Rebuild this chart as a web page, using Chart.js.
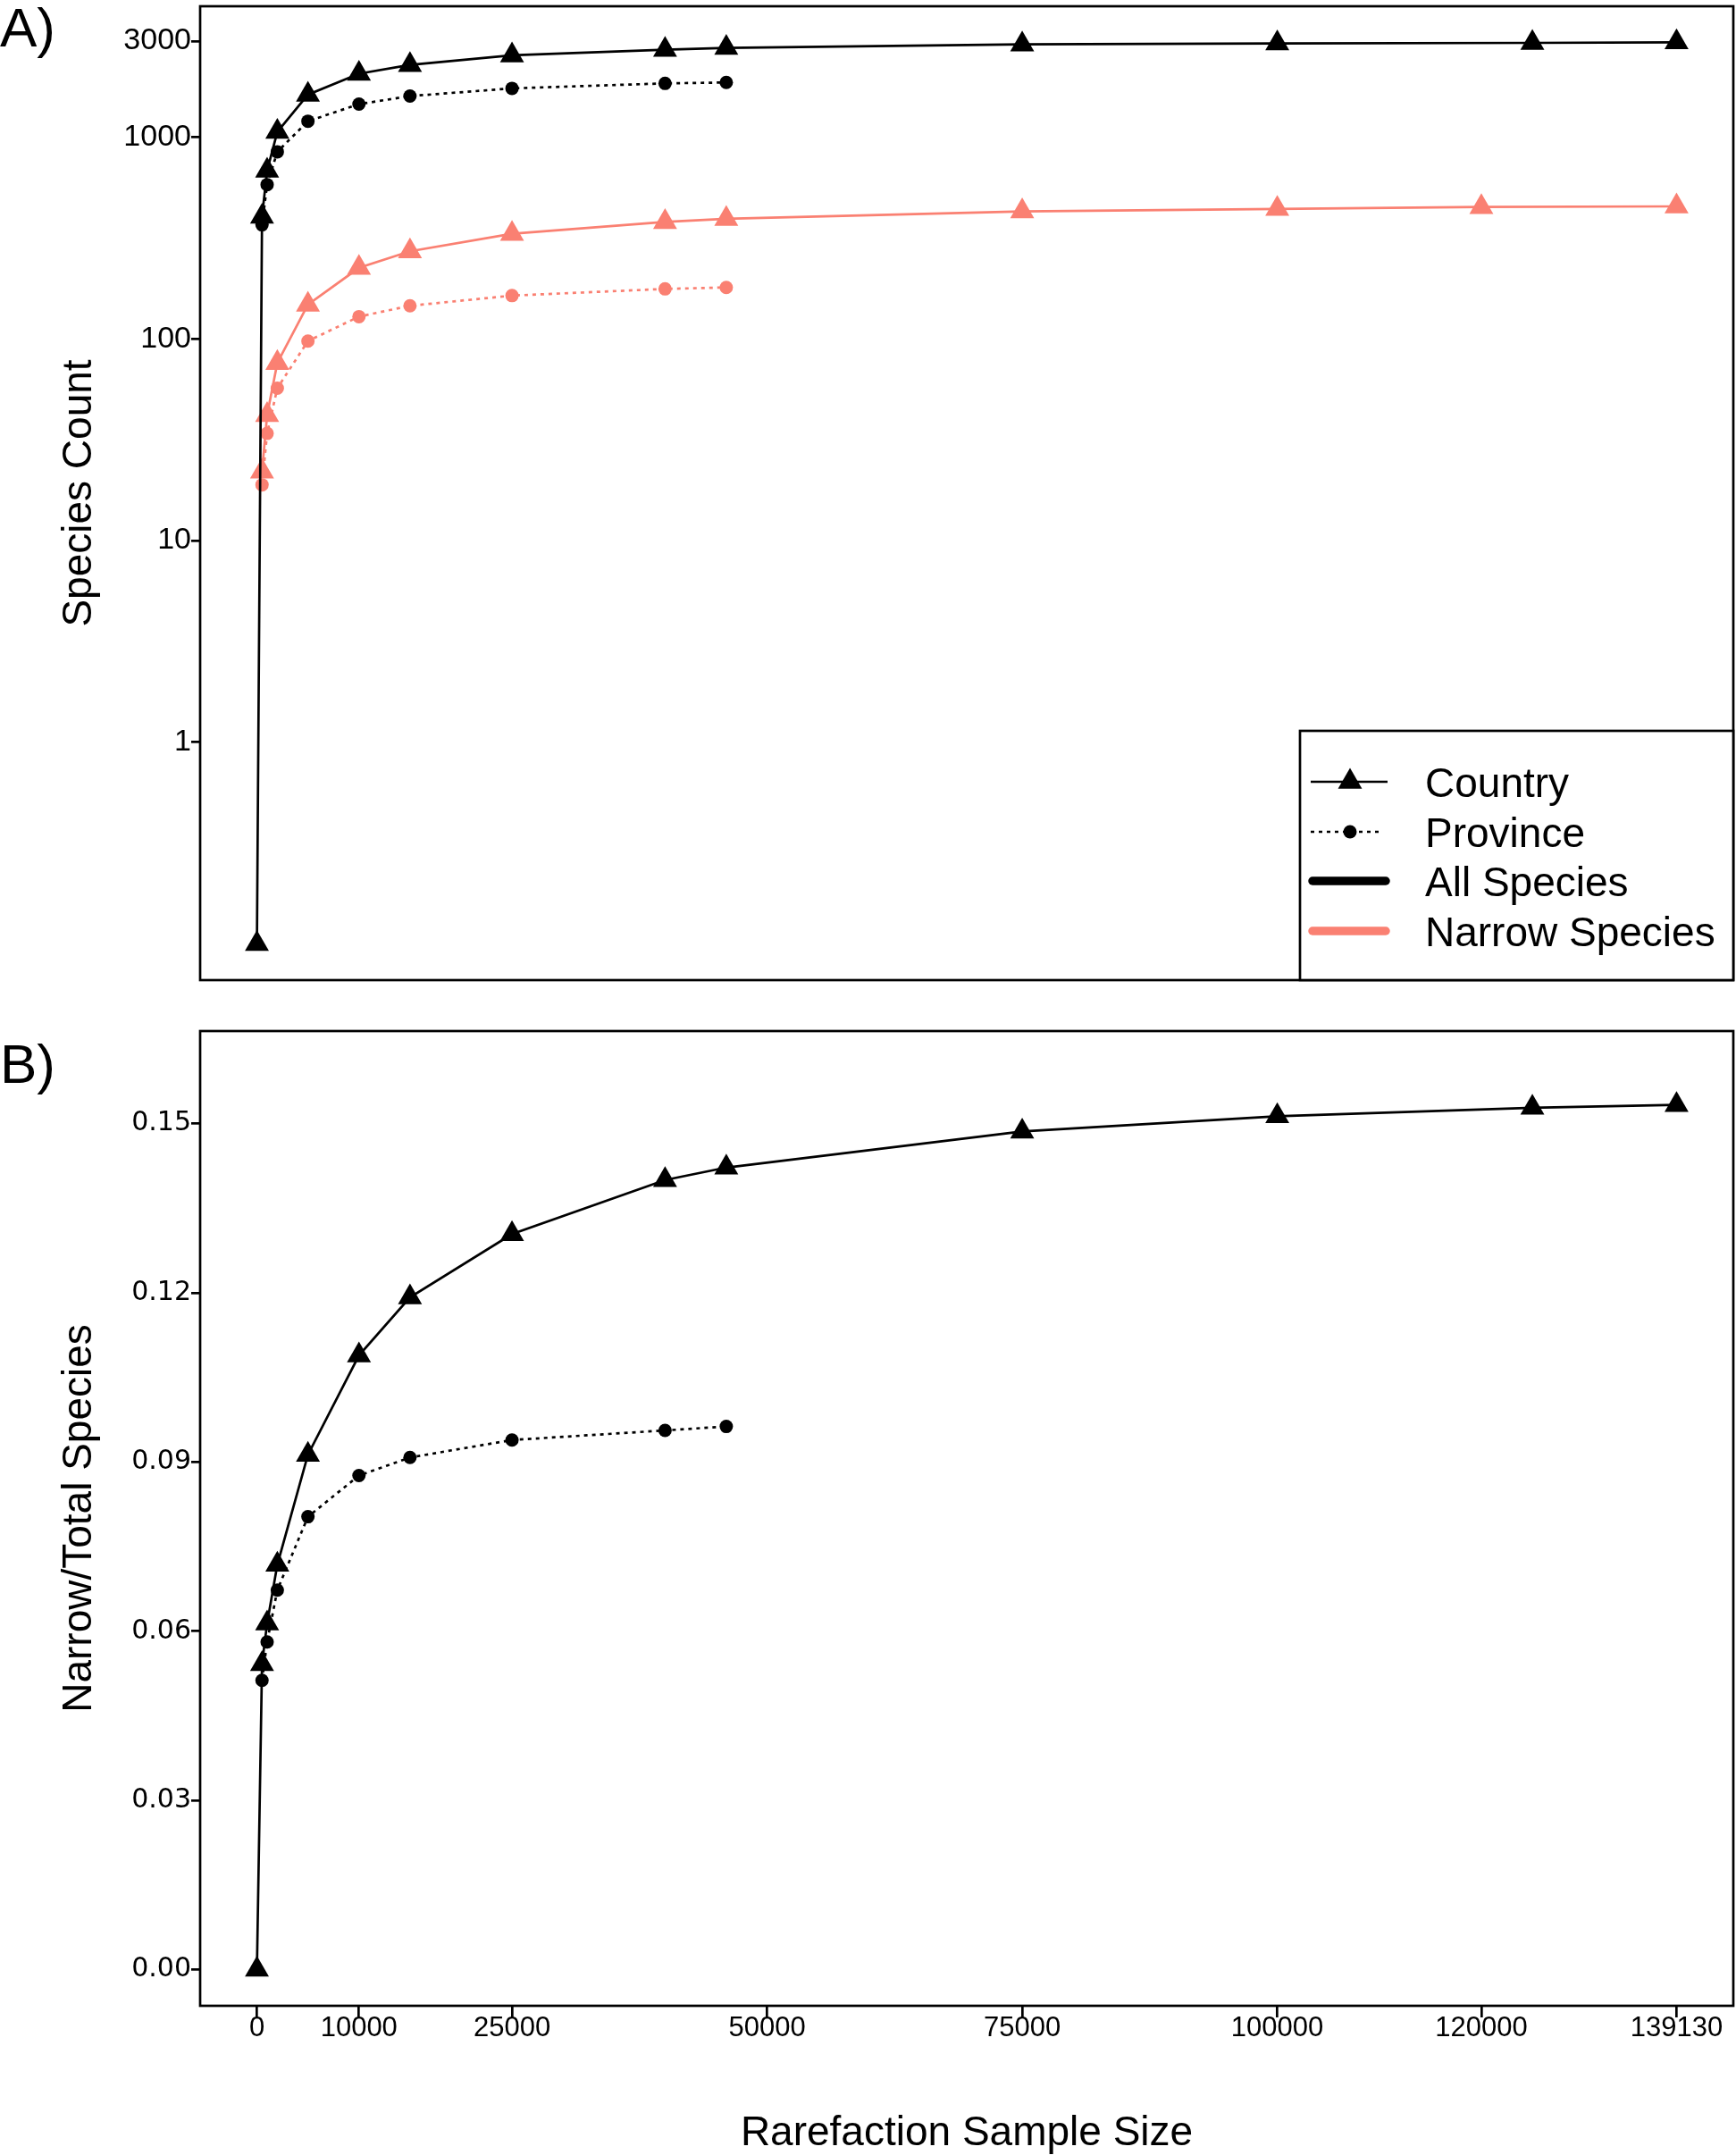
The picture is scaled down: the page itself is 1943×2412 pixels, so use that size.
<!DOCTYPE html>
<html>
<head>
<meta charset="utf-8">
<script src="https://cdn.jsdelivr.net/npm/chart.js@4/dist/chart.umd.min.js"></script>
<style>
html,body{margin:0;padding:0;background:#fff;}
body{width:1943px;height:2412px;position:relative;overflow:hidden;}
canvas{position:absolute;left:0;}
</style>
</head>
<body>
<canvas id="a" width="1943" height="1180" style="top:-40px;width:1943px;height:1180px"></canvas>
<canvas id="b" width="1943" height="1312" style="top:1100px;width:1943px;height:1312px"></canvas>
<script>
// ---- data ----
const sampleSize      = [0, 500, 1000, 2000, 5000, 10000, 15000, 25000, 40000, 46000, 75000, 100000, 125000, 139130];
const countryAll      = [0.1, 404, 683, 1063, 1626, 2066, 2284, 2547, 2716, 2773, 2886, 2918, 2937, 2956];
const countryNarrowX  = [500, 1000, 2000, 5000, 10000, 15000, 25000, 40000, 46000, 75000, 100000, 120000, 139130];
const countryNarrow   = [22, 42, 76, 148, 225, 272, 332, 380, 394, 429, 441, 451, 454];
const provinceX       = [500, 1000, 2000, 5000, 10000, 15000, 25000, 40000, 46000];
const provinceAll     = [368, 582, 847, 1201, 1459, 1600, 1747, 1849, 1869];
const provinceNarrow  = [18.9, 34, 57, 97.6, 129, 146, 164, 177, 180];
const countryRatio    = [0, 0.0542, 0.0614, 0.0718, 0.0913, 0.1089, 0.1192, 0.1304, 0.1400, 0.1422, 0.1486, 0.1513, 0.1528, 0.1533];
const provinceRatio   = [0.0513, 0.0581, 0.0673, 0.0803, 0.0876, 0.0908, 0.0939, 0.0956, 0.0963];

const xTicks  = [0, 10000, 25000, 50000, 75000, 100000, 120000, 139130];
const yTicksA = [1, 10, 100, 1000, 3000];
const yTicksB = [0, 0.03, 0.06, 0.09, 0.12, 0.15];
const legendLabels = ['Country', 'Province', 'All Species', 'Narrow Species'];
const panelLabels = ['A)', 'B)'];
const titles = {yA: 'Species Count', yB: 'Narrow/Total Species', x: 'Rarefaction Sample Size'};

// ---- styles ----
const SALMON = '#FA8072';
const SANS = '"Liberation Sans", Arial, Helvetica, sans-serif';
const WIDE = '"DejaVu Sans", sans-serif';
const LW = 2.7;
const DOT = [4, 5];
const TRI_R = 15.5, CIR_R = 7.5;

function series(xs, ys, color, style, dotted, order) {
  return {
    data: xs.map((x, i) => ({x: x, y: ys[i]})),
    borderColor: color,
    backgroundColor: color,
    borderWidth: LW,
    borderDash: dotted ? DOT : [],
    borderCapStyle: 'butt',
    pointStyle: style,
    pointRadius: style === 'triangle' ? TRI_R : CIR_R,
    pointHoverRadius: style === 'triangle' ? TRI_R : CIR_R,
    pointBackgroundColor: color,
    pointBorderColor: color,
    pointBorderWidth: 0,
    tension: 0,
    fill: false,
    order: order
  };
}

const frame = {
  id: 'frame',
  afterDraw(chart) {
    const {ctx, chartArea: a} = chart;
    ctx.save();
    ctx.strokeStyle = '#000';
    ctx.lineWidth = LW;
    ctx.strokeRect(a.left, a.top, a.right - a.left, a.bottom - a.top);
    ctx.restore();
  }
};

function panelLabel(text, x, y) {
  return {
    id: 'panelLabel',
    afterDraw(chart) {
      const ctx = chart.ctx;
      ctx.save();
      ctx.fillStyle = '#000';
      ctx.font = '62px ' + SANS;
      ctx.textAlign = 'left';
      ctx.textBaseline = 'alphabetic';
      ctx.fillText(text, x, y);
      ctx.restore();
    }
  };
}

const legendA = {
  id: 'legendA',
  afterDraw(chart) {
    const {ctx, chartArea: a} = chart;
    const w = 485, h = 279;
    const x0 = a.right - w, y0 = a.bottom - h;
    ctx.save();
    ctx.fillStyle = '#fff';
    ctx.fillRect(x0, y0, w, h);
    ctx.strokeStyle = '#000';
    ctx.lineWidth = LW;
    ctx.strokeRect(x0, y0, w, h);
    const rows = [57, 113, 168, 224].map(d => y0 + d);
    const lx0 = x0 + 12, lx1 = x0 + 98, mx = x0 + 56, tx = x0 + 140;
    const H = Chart.helpers;
    // Country
    ctx.setLineDash([]);
    ctx.lineWidth = LW; ctx.strokeStyle = '#000';
    ctx.beginPath(); ctx.moveTo(lx0, rows[0]); ctx.lineTo(lx1, rows[0]); ctx.stroke();
    ctx.fillStyle = '#000';
    H.drawPoint(ctx, {pointStyle: 'triangle', radius: TRI_R, borderWidth: 0, rotation: 0}, mx, rows[0]);
    // Province
    ctx.setLineDash(DOT);
    ctx.beginPath(); ctx.moveTo(lx0, rows[1]); ctx.lineTo(lx1 - 6, rows[1]); ctx.stroke();
    ctx.setLineDash([]);
    ctx.fillStyle = '#000';
    H.drawPoint(ctx, {pointStyle: 'circle', radius: CIR_R, borderWidth: 0, rotation: 0}, mx, rows[1]);
    // thick lines
    ctx.lineCap = 'round';
    ctx.lineWidth = 9.5;
    ctx.strokeStyle = '#000';
    ctx.beginPath(); ctx.moveTo(x0 + 14, rows[2]); ctx.lineTo(x0 + 96, rows[2]); ctx.stroke();
    ctx.strokeStyle = SALMON;
    ctx.beginPath(); ctx.moveTo(x0 + 14, rows[3]); ctx.lineTo(x0 + 96, rows[3]); ctx.stroke();
    // text
    ctx.fillStyle = '#000';
    ctx.font = '46px ' + SANS;
    ctx.textAlign = 'left';
    ctx.textBaseline = 'alphabetic';
    legendLabels.forEach((t, i) => ctx.fillText(t, tx, rows[i] + 16.5));
    ctx.restore();
  }
};

const xMin = -5565, xMax = 144695;
const tickFontA = {family: SANS, size: 34};
const tickFontX = {family: SANS, size: 31};
const tickFontB = {family: WIDE, size: 30};
const titleFont = {family: SANS, size: 46, lineHeight: 1.2};
const titleFontX = {family: SANS, size: 46, lineHeight: 1.05};
const gridOpts = {drawOnChartArea: false, drawTicks: true, tickWidth: LW, tickColor: '#000', lineWidth: LW, color: '#000'};

Chart.defaults.font.family = SANS;
Chart.defaults.color = '#000';

new Chart(document.getElementById('a'), {
  type: 'line',
  data: {datasets: [
    series(sampleSize, countryAll, '#000', 'triangle', false, 0),
    series(provinceX, provinceAll, '#000', 'circle', true, 1),
    series(countryNarrowX, countryNarrow, SALMON, 'triangle', false, 2),
    series(provinceX, provinceNarrow, SALMON, 'circle', true, 3)
  ]},
  options: {
    responsive: false, animation: false, devicePixelRatio: 1,
    layout: {autoPadding: false, padding: {top: 47, bottom: 43, left: 0, right: 3}},
    plugins: {legend: {display: false}, tooltip: {enabled: false}},
    scales: {
      x: {type: 'linear', min: xMin, max: xMax, bounds: 'data', display: false},
      y: {
        type: 'logarithmic', min: 0.0662, max: 4461, bounds: 'data',
        afterFit: s => { s.width = 224; },
        afterBuildTicks: s => { s.ticks = yTicksA.map(v => ({value: v})); },
        ticks: {callback: v => String(v), font: tickFontA, color: '#000', padding: 0, autoSkip: false},
        grid: Object.assign({tickLength: 10}, gridOpts),
        border: {display: false},
        title: {display: true, text: titles.yA, font: titleFont, color: '#000', padding: {top: 62, bottom: 0}}
      }
    }
  },
  plugins: [frame, legendA, panelLabel(panelLabels[0], 0, 92)]
});

new Chart(document.getElementById('b'), {
  type: 'line',
  data: {datasets: [
    series(sampleSize, countryRatio, '#000', 'triangle', false, 0),
    series(provinceX, provinceRatio, '#000', 'circle', true, 1)
  ]},
  options: {
    responsive: false, animation: false, devicePixelRatio: 1,
    layout: {autoPadding: false, padding: {top: 54, bottom: 0, left: 0, right: 3}},
    plugins: {legend: {display: false}, tooltip: {enabled: false}},
    scales: {
      x: {
        type: 'linear', min: xMin, max: xMax, bounds: 'data',
        afterFit: s => { s.height = 167; },
        afterBuildTicks: s => { s.ticks = xTicks.map(v => ({value: v})); },
        ticks: {callback: v => String(v), font: tickFontX, color: '#000', padding: -6, autoSkip: false, maxRotation: 0, minRotation: 0},
        grid: Object.assign({tickLength: 13}, gridOpts),
        border: {display: false},
        title: {display: true, text: titles.x, font: titleFontX, color: '#000', padding: {top: 0, bottom: 0}}
      },
      y: {
        type: 'linear', min: -0.0064, max: 0.1664, bounds: 'data',
        afterFit: s => { s.width = 224; },
        afterBuildTicks: s => { s.ticks = yTicksB.map(v => ({value: v})); },
        ticks: {callback: v => v.toFixed(2), font: tickFontB, color: '#000', padding: 0, autoSkip: false},
        grid: Object.assign({tickLength: 10}, gridOpts),
        border: {display: false},
        title: {display: true, text: titles.yB, font: titleFont, color: '#000', padding: {top: 62, bottom: 0}}
      }
    }
  },
  plugins: [frame, panelLabel(panelLabels[1], 0, 112)]
});
</script>
</body>
</html>
